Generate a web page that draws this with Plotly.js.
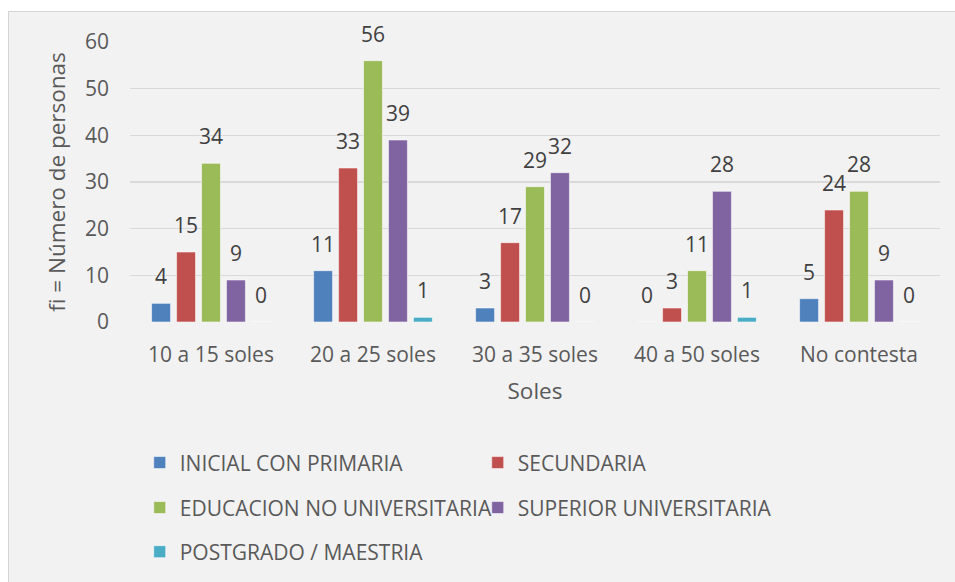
<!DOCTYPE html>
<html><head><meta charset="utf-8">
<script src="https://cdn.plot.ly/plotly-3.0.1.min.js"></script>
<style>
html,body{margin:0;padding:0;background:#fff;width:955px;height:582px;overflow:hidden;}
#frame{position:absolute;left:8px;top:11px;width:960px;height:590px;background:#f2f2f2;border-left:1.5px solid #d4d4d4;border-top:1.5px solid #d4d4d4;}
#chart{position:absolute;left:9px;top:12px;width:946px;height:570px;}
</style></head><body>
<div id="frame"></div>
<div id="chart"></div>
<script>
const categories = ["10 a 15 soles", "20 a 25 soles", "30 a 35 soles", "40 a 50 soles", "No contesta"];
const seriesNames = ["INICIAL CON PRIMARIA", "SECUNDARIA", "EDUCACION NO UNIVERSITARIA", "SUPERIOR UNIVERSITARIA", "POSTGRADO / MAESTRIA"];
const inicial = [4, 11, 3, 0, 5];
const secundaria = [15, 33, 17, 3, 24];
const educNoUniv = [34, 56, 29, 11, 28];
const superiorUniv = [9, 39, 32, 28, 9];
const postgrado = [0, 1, 0, 1, 0];
const seriesValues = [inicial, secundaria, educNoUniv, superiorUniv, postgrado];
const colors = ["#4f81bd", "#c0504d", "#9bbb59", "#8064a2", "#4bacc6"];
const legendIds = ["legend", "legend", "legend2", "legend2", "legend3"];

const BARGAP = 0.23, GROUPGAP = 0.24;
const nS = seriesValues.length;
const slot = (1 - BARGAP) / nS;
const FONT = "Open Sans, sans-serif";

const traces = seriesValues.map((vals, i) => ({
  type: "bar",
  name: seriesNames[i],
  x: categories,
  y: vals,
  legend: legendIds[i],
  marker: {color: colors[i], line: {color: "rgba(255,255,255,0.55)", width: 1}},
  hoverinfo: "x+y+name"
}));

const annotations = [];
seriesValues.forEach((vals, i) => {
  const off = -(1 - BARGAP) / 2 + (i + 0.5) * slot;
  vals.forEach((v, j) => {
    annotations.push({
      x: j + off, y: v, xref: "x", yref: "y",
      text: String(v), showarrow: false,
      yanchor: "bottom", yshift: 11,
      font: {family: FONT, size: 21, color: "#404040"}
    });
  });
});

const legendBase = {
  orientation: "h", xanchor: "left", yanchor: "middle",
  x: 0.012, bgcolor: "rgba(0,0,0,0)",
  entrywidth: 293, entrywidthmode: "pixels",
  font: {family: FONT, size: 21, color: "#595959"}
};

const layout = {
  width: 946, height: 570,
  margin: {l: 121, r: 15, t: 30, b: 259},
  paper_bgcolor: "#f2f2f2", plot_bgcolor: "#f2f2f2",
  barmode: "group", bargap: BARGAP, bargroupgap: GROUPGAP,
  font: {family: FONT, color: "#595959", size: 21},
  showlegend: true,
  legend: Object.assign({}, legendBase, {y: -0.498}),
  legend2: Object.assign({}, legendBase, {y: -0.658}),
  legend3: Object.assign({}, legendBase, {y: -0.815}),
  xaxis: {
    type: "category", showgrid: false, showline: false, zeroline: false,
    ticks: "", ticklabelstandoff: 18,
    tickfont: {size: 21, color: "#595959"},
    title: {text: "Soles", font: {size: 22.5, color: "#595959"}, standoff: 16}
  },
  yaxis: {
    range: [0, 60], dtick: 10, showgrid: true, gridcolor: "#d9d9d9", gridwidth: 1.5,
    zeroline: false, showline: false, ticks: "", ticklabelstandoff: 20,
    tickfont: {size: 21, color: "#595959"},
    title: {text: "fi = Número de personas", font: {size: 22.5, color: "#595959"}, standoff: 13}
  },
  annotations: annotations
};

Plotly.newPlot("chart", traces, layout, {displayModeBar: false, staticPlot: true});
</script>
</body></html>
